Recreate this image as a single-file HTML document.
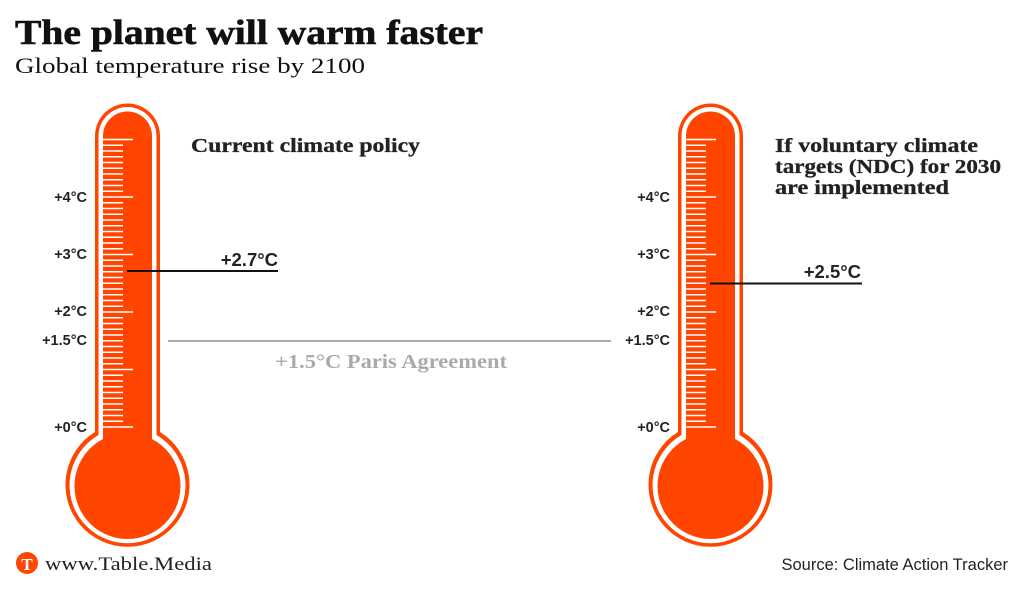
<!DOCTYPE html>
<html><head><meta charset="utf-8"><style>
html,body{margin:0;padding:0;background:#fff;}
svg{display:block;}
</style></head><body>
<svg width="1024" height="590" viewBox="0 0 1024 590" xmlns="http://www.w3.org/2000/svg">
<defs>
<g id="therm">
  <path d="M95,432 L95,136 A32.5,32.5 0 0 1 160,136 L160,432 A62,62 0 1 1 95,432 Z" fill="#ff4500"/>
  <path d="M98.5,435 L98.5,136 A29,29 0 0 1 156.5,136 L156.5,435 A58,58 0 1 1 98.5,435 Z" fill="#fff"/>
  <path d="M103,439 L103,136 A24.5,24.5 0 0 1 152,136 L152,439 A53,53 0 1 1 103,439 Z" fill="#ff4500"/>
  <g id="ticks" stroke="#fff" stroke-width="1.6"></g>
</g>
</defs>
<text x="15" y="44" font-family="Liberation Serif, serif" font-weight="bold" font-size="35" textLength="468" lengthAdjust="spacingAndGlyphs" fill="#111" stroke="#111" stroke-width="0.6">The planet will warm faster</text>
<text x="15" y="73" font-family="Liberation Serif, serif" font-size="22" textLength="350" lengthAdjust="spacingAndGlyphs" fill="#111">Global temperature rise by 2100</text>

<g id="t1"></g>
<g id="t2" transform="translate(583,0)"></g>

<g font-family="Liberation Sans, sans-serif" font-size="14.5" font-weight="bold" fill="#222" text-anchor="end">
  <text x="87" y="202">+4°C</text><text x="87" y="259">+3°C</text><text x="87" y="316">+2°C</text><text x="87" y="345">+1.5°C</text><text x="87" y="432">+0°C</text>
  <text x="670" y="202">+4°C</text><text x="670" y="259">+3°C</text><text x="670" y="316">+2°C</text><text x="670" y="345">+1.5°C</text><text x="670" y="432">+0°C</text>
</g>

<line x1="127" y1="271" x2="278" y2="271" stroke="#111" stroke-width="2"/>
<text x="278" y="266" text-anchor="end" font-family="Liberation Sans, sans-serif" font-weight="bold" font-size="18.5" fill="#222">+2.7°C</text>
<line x1="710" y1="283.5" x2="862" y2="283.5" stroke="#111" stroke-width="2"/>
<text x="861" y="278" text-anchor="end" font-family="Liberation Sans, sans-serif" font-weight="bold" font-size="18.5" fill="#222">+2.5°C</text>

<line x1="168" y1="341" x2="611" y2="341" stroke="#aaa" stroke-width="2"/>
<text x="391" y="368" text-anchor="middle" font-family="Liberation Serif, serif" font-weight="bold" font-size="20" fill="#aaa" textLength="232" lengthAdjust="spacingAndGlyphs">+1.5°C Paris Agreement</text>

<g font-family="Liberation Serif, serif" font-weight="bold" font-size="20" fill="#222" stroke="#222" stroke-width="0.3">
  <text x="191" y="152" textLength="229" lengthAdjust="spacingAndGlyphs">Current climate policy</text>
  <text x="775" y="152" textLength="203" lengthAdjust="spacingAndGlyphs">If voluntary climate</text>
  <text x="775" y="173" textLength="226" lengthAdjust="spacingAndGlyphs">targets (NDC) for 2030</text>
  <text x="775" y="194" textLength="174" lengthAdjust="spacingAndGlyphs">are implemented</text>
</g>

<circle cx="27" cy="563" r="11" fill="#ff4500"/>
<text x="27" y="570" text-anchor="middle" font-family="Liberation Serif, serif" font-weight="bold" font-size="17" fill="#fff">T</text>
<text x="45" y="570" font-family="Liberation Serif, serif" font-size="19" fill="#222" textLength="167" lengthAdjust="spacingAndGlyphs">www.Table.Media</text>
<text x="1008" y="570" text-anchor="end" font-family="Liberation Sans, sans-serif" font-size="16.5" fill="#222">Source: Climate Action Tracker</text>
</svg>
<script>
(function(){
 var ns="http://www.w3.org/2000/svg";
 var tk=document.getElementById('ticks');
 for(var i=0;i<=50;i++){
  var y=427-i*5.75;
  var l=document.createElementNS(ns,'line');
  l.setAttribute('x1',103);l.setAttribute('x2',(i%10==0)?133:123);
  l.setAttribute('y1',y);l.setAttribute('y2',y);
  tk.appendChild(l);
 }
 ['t1','t2'].forEach(function(id){
  var u=document.createElementNS(ns,'use');
  u.setAttribute('href','#therm');
  document.getElementById(id).appendChild(u);
 });
})();
</script>
</body></html>
